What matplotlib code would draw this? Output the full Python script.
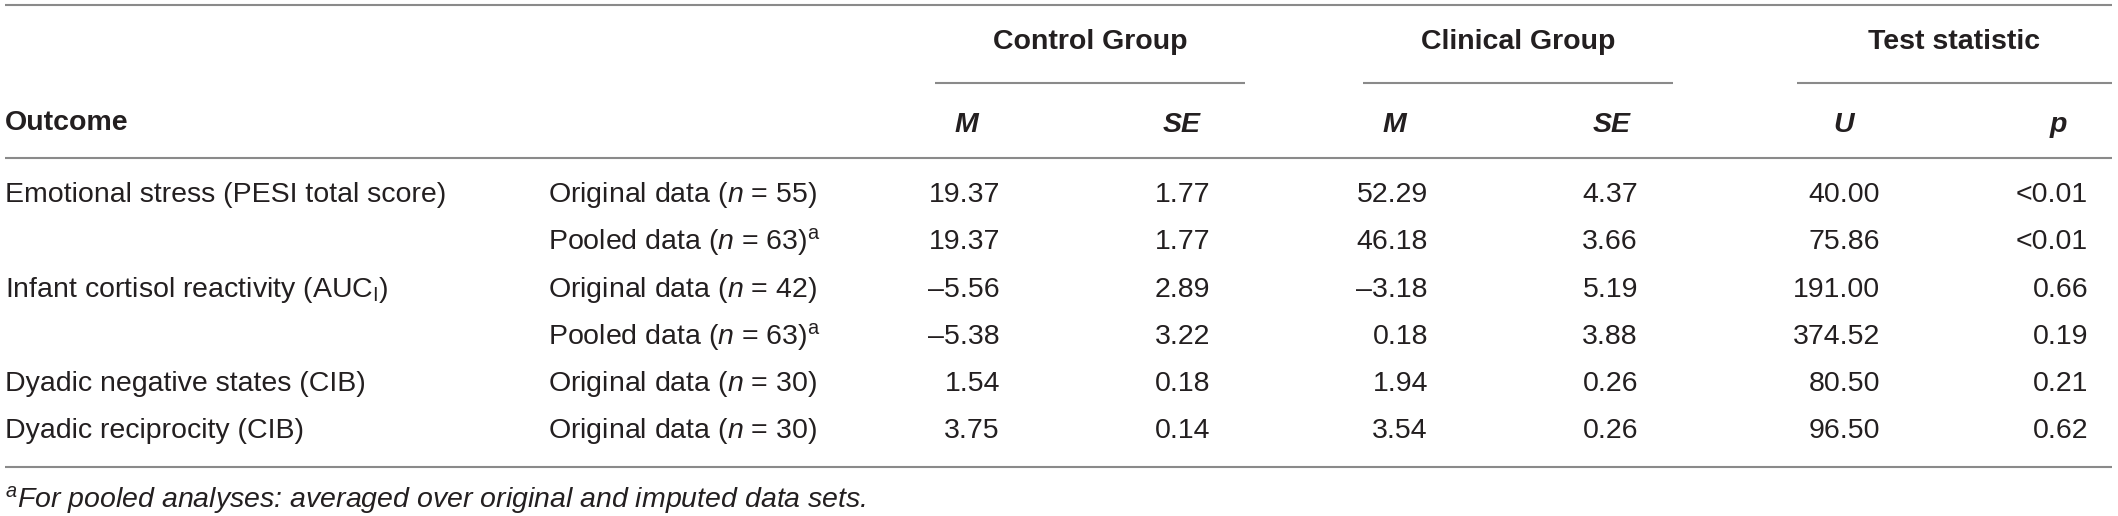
import matplotlib
matplotlib.use("Agg")
import matplotlib.pyplot as plt

plt.rcParams['font.family'] = ['Liberation Sans', 'DejaVu Sans']
plt.rcParams['mathtext.fontset'] = 'custom'
plt.rcParams['mathtext.rm'] = 'Liberation Sans'
plt.rcParams['mathtext.it'] = 'Liberation Sans:italic'
plt.rcParams['mathtext.bf'] = 'Liberation Sans:bold'

# table data
outcomes = ["Emotional stress (PESI total score)", "",
            r"Infant cortisol reactivity (AUC$_\mathregular{I}$)", "",
            "Dyadic negative states (CIB)", "Dyadic reciprocity (CIB)"]
datasets = [r"Original data ($\mathit{n}$ = 55)",
            r"Pooled data ($\mathit{n}$ = 63)$^\mathregular{a}$",
            r"Original data ($\mathit{n}$ = 42)",
            r"Pooled data ($\mathit{n}$ = 63)$^\mathregular{a}$",
            r"Original data ($\mathit{n}$ = 30)",
            r"Original data ($\mathit{n}$ = 30)"]
control_m = [19.37, 19.37, -5.56, -5.38, 1.54, 3.75]
control_se = [1.77, 1.77, 2.89, 3.22, 0.18, 0.14]
clinical_m = [52.29, 46.18, -3.18, 0.18, 1.94, 3.54]
clinical_se = [4.37, 3.66, 5.19, 3.88, 0.26, 0.26]
u_stat = [40.00, 75.86, 191.00, 374.52, 80.50, 96.50]
p_vals = ["<0.01", "<0.01", "0.66", "0.19", "0.21", "0.62"]

groups = ["Control Group", "Clinical Group", "Test statistic"]
subheads = ["M", "SE", "M", "SE", "U", "p"]
footnote = r"$^\mathregular{a}$For pooled analyses: averaged over original and imputed data sets."

W, H = 2118, 516
ink = "#231f20"
rule = "#8a8a8a"
fs = 20.5

fig = plt.figure(figsize=(W / 100, H / 100), dpi=100)
ax = fig.add_axes([0, 0, 1, 1])
ax.set_xlim(0, W)
ax.set_ylim(H, 0)
ax.axis("off")


def fmt(v):
    return f"{v:.2f}".replace("-", "\u2013")


# column layout (pixels)
num_right = [1000, 1210, 1428, 1638, 1880, 2088]
head_center = [966, 1182, 1394, 1612, 1844, 2058]
group_span = [(935, 1245), (1363, 1673), (1797, 2112)]
row_y0, row_dy = 195, 47.3

# rules
for y in (5, 158, 467):
    ax.plot([5, 2112], [y, y], color=rule, lw=1.5, solid_capstyle="butt")
for (x0, x1), g in zip(group_span, groups):
    ax.plot([x0, x1], [83, 83], color=rule, lw=1.5, solid_capstyle="butt")
    ax.text((x0 + x1) / 2, 42, g, ha="center", va="center",
            fontsize=fs, fontweight="bold", color=ink)

ax.text(5, 123, "Outcome", ha="left", va="center",
        fontsize=fs, fontweight="bold", color=ink)
for x, s in zip(head_center, subheads):
    ax.text(x, 125, s, ha="center", va="center", fontsize=fs,
            fontweight="bold", fontstyle="italic", color=ink)

columns = [[fmt(v) for v in control_m], [fmt(v) for v in control_se],
           [fmt(v) for v in clinical_m], [fmt(v) for v in clinical_se],
           [fmt(v) for v in u_stat], p_vals]

for i in range(len(datasets)):
    y = row_y0 + i * row_dy
    if outcomes[i]:
        ax.text(5, y, outcomes[i], ha="left", va="center", fontsize=fs, color=ink)
    ax.text(548, y, datasets[i], ha="left", va="center", fontsize=fs, color=ink)
    for x, col in zip(num_right, columns):
        ax.text(x, y, col[i], ha="right", va="center", fontsize=fs, color=ink)

ax.text(5, 500, footnote, ha="left", va="center", fontsize=fs,
        fontstyle="italic", color=ink)

fig.savefig("out.png", dpi=100)
